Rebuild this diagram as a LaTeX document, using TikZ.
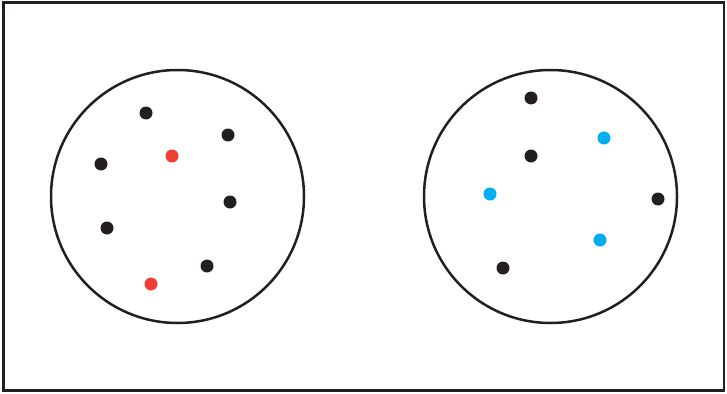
\documentclass[tikz,border=0pt]{standalone}
\definecolor{ink}{HTML}{231F20}
\definecolor{dotred}{HTML}{EF3E36}
\definecolor{dotblue}{HTML}{00AEEF}
\begin{document}
\begin{tikzpicture}[x=1pt,y=-1pt,
  frame/.style={draw=ink,line width=2.2pt},
  ring/.style={draw=ink,line width=2.5pt},
  bdot/.style={circle,fill=ink,inner sep=0pt,minimum size=13pt},
  rdot/.style={circle,fill=dotred,inner sep=0pt,minimum size=13pt},
  cdot/.style={circle,fill=dotblue,inner sep=0pt,minimum size=13pt}]
\useasboundingbox (0,0) rectangle (727,393);
\draw[frame] (3.5,2.5) rectangle (724,390.5);
\draw[ring] (177.5,196.5) circle (126.5);
\draw[ring] (550.5,196.5) circle (126.5);
% left dots
\node[bdot] (l1) at (146,113) {};
\node[bdot] (l2) at (228,135) {};
\node[bdot] (l3) at (101,164) {};
\node[bdot] (l4) at (230,202) {};
\node[bdot] (l5) at (107,228) {};
\node[bdot] (l6) at (207,266) {};
\node[rdot] (r1) at (172,156) {};
\node[rdot] (r2) at (151,284) {};
% right dots
\node[bdot] (m1) at (531,98) {};
\node[bdot] (m2) at (531,156) {};
\node[bdot] (m3) at (658,199) {};
\node[bdot] (m4) at (503,268) {};
\node[cdot] (c1) at (604,138) {};
\node[cdot] (c2) at (490,194) {};
\node[cdot] (c3) at (600,240) {};
\end{tikzpicture}
\end{document}
